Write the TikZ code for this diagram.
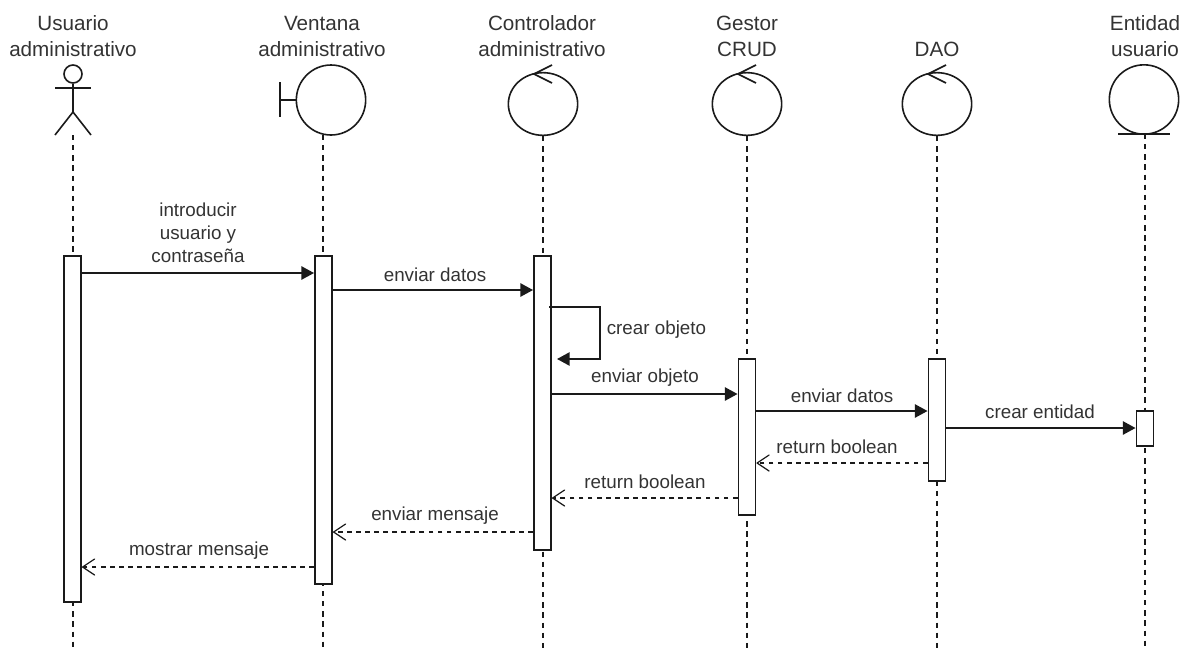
\documentclass[tikz,border=0pt]{standalone}
\usepackage{fontspec}
\setmainfont{Liberation Sans}
\usetikzlibrary{arrows.meta,shapes.geometric}
\definecolor{ink}{HTML}{1A1A1A}
\definecolor{txt}{HTML}{333333}
\tikzset{
  actbox/.style={draw=ink,fill=white,rectangle,inner sep=0pt,minimum width=13pt},
  headlabel/.style={inner sep=0pt,text=txt,font=\fontsize{15.5}{19.5}\selectfont,align=center},
  msglabel/.style={inner sep=0pt,text=txt,font=\fontsize{14.1}{17.3}\selectfont,align=center},
  orb/.style={draw=ink,ellipse,inner sep=0pt,minimum width=52pt},
  lifeline/.style={dash pattern=on 4pt off 3.6pt,line width=1pt},
  call/.style={-{Triangle[length=9.5pt,width=10pt,fill=ink]}},
  reply/.style={dash pattern=on 3.6pt off 3.2pt,line width=0.9pt,-{Straight Barb[length=9pt,width=12pt,line width=0.9pt,round=false]}}
}
\begin{document}
\begin{tikzpicture}[x=0.75pt,y=-0.75pt,color=ink,line width=1.2pt]
\useasboundingbox (0,0) rectangle (1187,650);
% head labels
\node[headlabel] (lu) at (73,36) {Usuario\\administrativo};
\node[headlabel] (lv) at (322,36) {Ventana\\administrativo};
\node[headlabel] (lc) at (542,36) {Controlador\\administrativo};
\node[headlabel] (lg) at (747,36) {Gestor\\CRUD};
\node[headlabel] (ld) at (937,49) {DAO};
\node[headlabel] (le) at (1145,36) {Entidad\\usuario};
% end points
\coordinate (endu) at (73,650);
\coordinate (endv) at (323,650);
\coordinate (endc) at (543,650);
\coordinate (endg) at (747,650);
\coordinate (endd) at (937,650);
\coordinate (ende) at (1145,650);
% lifeline heads
\coordinate (actorbase) at (73,135);
\node[orb,minimum height=52.5pt] (win) at (331,100) {};
\node[orb,minimum height=47pt] (ctl) at (543,104) {};
\node[orb,minimum height=47pt] (gst) at (747,104) {};
\node[orb,minimum height=47pt] (dao) at (937,104) {};
\node[orb,minimum height=52pt] (ent) at (1144,99.5) {};
% lifelines
\draw[lifeline] (actorbase) -- (endu);
\draw[lifeline] (323,135) -- (endv);
\draw[lifeline] (ctl.south) -- (endc);
\draw[lifeline] (gst.south) -- (endg);
\draw[lifeline] (dao.south) -- (endd);
\draw[lifeline] (1145,134) -- (ende);
% actor
\node[draw=ink,circle,inner sep=0pt,minimum size=13.5pt] (head) at (73,74) {};
\draw (head.south) -- (73,112);
\draw (55,88) -- (91,88);
\draw (55,135) -- (73,112) -- (91,135);
% boundary
\draw (280,82) -- (280,117);
\draw (280,100) -- (win.west);
% entity bar
\draw (1118,134) -- (1170,134);
% control arrows
\draw (552,65) -- (534,74) -- (552,83);
\draw (756,65) -- (738,74) -- (756,83);
\draw (946,65) -- (928,74) -- (946,83);
% activation boxes
\node[actbox,minimum height={346*0.75pt}] (bu) at (72.5,429) {};
\node[actbox,minimum height={328*0.75pt}] (bv) at (323.5,420) {};
\node[actbox,minimum height={294*0.75pt}] (bc) at (542.5,403) {};
\node[actbox,minimum height={156*0.75pt}] (bg) at (747,437) {};
\node[actbox,minimum height={122*0.75pt}] (bd) at (937,420) {};
\node[actbox,minimum height={35*0.75pt}] (be) at (1145,428.5) {};
% messages
\draw[call] (bu.east |- 0,273) -- (bv.west |- 0,273);
\node[msglabel] (m1) at (198,233) {introducir\\usuario y\\contraseña};
\draw[call] (bv.east |- 0,290) -- (bc.west |- 0,290);
\node[msglabel] (m2) at (435,275) {enviar datos};
\draw[call] (549,307) -- (600,307) -- (600,359) -- (557,359);
\node[msglabel,anchor=west] (m3) at (606,330) {crear objeto};
\draw[call] (bc.east |- 0,394) -- (bg.west |- 0,394);
\node[msglabel] (m4) at (645,378) {enviar objeto};
\draw[call] (bg.east |- 0,411) -- (bd.west |- 0,411);
\node[msglabel] (m5) at (842,396) {enviar datos};
\draw[call] (bd.east |- 0,428) -- (be.west |- 0,428);
\node[msglabel] (m6) at (1040,412) {crear entidad};
\draw[reply] (bd.west |- 0,463) -- (bg.east |- 0,463);
\node[msglabel] (m7) at (837,447) {return boolean};
\draw[reply] (bg.west |- 0,498) -- (bc.east |- 0,498);
\node[msglabel] (m8) at (645,482) {return boolean};
\draw[reply] (bc.west |- 0,532) -- (bv.east |- 0,532);
\node[msglabel] (m9) at (435,516) {enviar mensaje};
\draw[reply] (bv.west |- 0,567) -- (bu.east |- 0,567);
\node[msglabel] (m10) at (199,551) {mostrar mensaje};
\end{tikzpicture}
\end{document}
